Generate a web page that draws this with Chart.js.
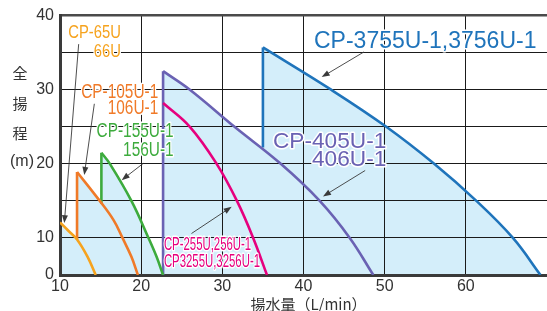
<!DOCTYPE html>
<html>
<head>
<meta charset="utf-8">
<script src="https://cdn.jsdelivr.net/npm/chart.js@4.4.1/dist/chart.umd.min.js"></script>
<style>
  html, body { margin: 0; padding: 0; background: #fff; }
  #wrap { width: 547px; height: 311px; }
</style>
</head>
<body>
<div id="wrap"><canvas id="chart" width="547" height="311"></canvas></div>
<script>
'use strict';

// flow (L/min) along x, total head (m) along y
const flowTicks = [10, 20, 30, 40, 50, 60];
const headTicks = [0, 10, 15, 20, 25, 30, 35, 40];
const headLabels = [0, 10, 20, 30, 40];

const cp65Flow = [10, 11, 12.1, 13.4, 14.4];
const cp65Head = [12.1, 11.0, 9.6, 4.9, 0];

const cp105Flow = [12.1, 14.9, 16.6, 17.7, 18.8, 19.6];
const cp105Head = [18.9, 15, 12.4, 10, 4.9, 0];
const cp105Stem = [9.6, 18.9];

const cp155Flow = [15.1, 16.15, 18.8, 20.9, 21.9, 22.7];
const cp155Head = [21.5, 20, 15, 10, 4.9, 0];
const cp155Stem = [14.6, 21.5];

const cp255Flow = [22.7, 26.0, 29.3, 31.8, 33.8, 35.5];
const cp255Head = [28.2, 25, 20, 15, 10, 0];

const cp405Flow = [22.7, 26.0, 31.5, 37.2, 42.0, 45.7, 48.6];
const cp405Head = [32.5, 30, 25, 20, 15, 10, 0];
const cp405Stem = [0, 32.5];

const cp3755Flow = [35.0, 43.4, 50.2, 56.1, 61.3, 65.8, 69.2];
const cp3755Head = [35.7, 30, 25, 20, 15, 10, 0];
const cp3755Stem = [22.2, 35.7];

const FILL = '#d4eefa';
const INK = '#333333';
const FONT = '"Liberation Sans", Arial, sans-serif';
const CJK = '"Noto Sans CJK JP", sans-serif';

// the sheet squeezes 0..10 m into half the height of the other decades
const BREAK = 10;

class BrokenScale extends Chart.LinearScale {
    _fold(v) { return v <= BREAK ? v / 2 : v - BREAK / 2; }
    _unfold(f) { return f <= BREAK / 2 ? f * 2 : f + BREAK / 2; }
    getPixelForValue(value) {
        const lo = this._fold(this.min);
        const hi = this._fold(this.max);
        return this.getPixelForDecimal((this._fold(value) - lo) / (hi - lo));
    }
    getValueForPixel(pixel) {
        const lo = this._fold(this.min);
        const hi = this._fold(this.max);
        return this._unfold(lo + this.getDecimalForPixel(pixel) * (hi - lo));
    }
}
BrokenScale.id = 'broken';
BrokenScale.defaults = Chart.LinearScale.defaults;
Chart.register(BrokenScale);

const pumps = [
    { color: '#f6a31e', flow: cp65Flow, head: cp65Head, stem: null },
    { color: '#f07a28', flow: cp105Flow, head: cp105Head, stem: cp105Stem },
    { color: '#3dab3d', flow: cp155Flow, head: cp155Head, stem: cp155Stem },
    { color: '#e6007e', flow: cp255Flow, head: cp255Head, stem: null },
    { color: '#6a62b3', flow: cp405Flow, head: cp405Head, stem: cp405Stem },
    { color: '#1f74bb', flow: cp3755Flow, head: cp3755Head, stem: cp3755Stem },
];

const datasets = [];
pumps.forEach((p) => {
    datasets.push({
        data: p.flow.map((x, i) => ({ x, y: p.head[i] })),
        borderColor: p.color,
        borderWidth: 2.6,
        backgroundColor: FILL,
        fill: 'origin',
        tension: 0.4,
        pointRadius: 0,
    });
    if (p.stem) {
        datasets.push({
            data: p.stem.map((y) => ({ x: p.flow[0], y })),
            borderColor: p.color,
            borderWidth: 2.6,
            fill: false,
            tension: 0,
            pointRadius: 0,
        });
    }
});

// model labels: anchor in chart units, first baseline; further lines drop by gap px
const notes = [
    { lines: ['CP-65U', '66U'], x: 17.5, y: 37.0, align: 'right', color: '#f6a31e', size: 18.5, squeeze: 0.8, gap: 19 },
    { lines: ['CP-105U-1', '106U-1'], x: 22.1, y: 28.9, align: 'right', color: '#f07a28', size: 20, squeeze: 0.77, gap: 16.5 },
    { lines: ['CP-155U-1', '156U-1'], x: 24.0, y: 23.6, align: 'right', color: '#3dab3d', size: 20, squeeze: 0.77, gap: 18.5 },
    { lines: ['CP-255U,256U-1', 'CP3255U,3256U-1'], x: 22.8, y: 6.7, align: 'left', color: '#e6007e', size: 17.5, squeeze: 0.65, gap: 17.3 },
    { lines: ['CP-405U-1', '406U-1'], x: 50.2, y: 22.2, align: 'right', color: '#6a62b3', size: 22, squeeze: 1.03, gap: 18.5 },
    { lines: ['CP-3755U-1,3756U-1'], x: 68.7, y: 35.6, align: 'right', color: '#1f74bb', size: 23, squeeze: 1.0, gap: 0 },
];

// leader arrows: [fromFlow, fromHead, toFlow, toHead]
const pointers = [
    [12.3, 36.15, 10.53, 12.0],
    [14.23, 28.1, 12.99, 18.5],
    [20.26, 20.06, 17.6, 17.8],
    [26.2, 10.6, 31.15, 14.2],
    [47.6, 19.1, 42.4, 15.6],
    [47.45, 35.1, 42.24, 31.7],
];

function arrow(ctx, x0, y0, x1, y1) {
    const a = Math.atan2(y1 - y0, x1 - x0);
    const len = 8, half = 3;
    ctx.beginPath();
    ctx.moveTo(x0, y0);
    ctx.lineTo(x1 - Math.cos(a) * len * 0.8, y1 - Math.sin(a) * len * 0.8);
    ctx.stroke();
    ctx.beginPath();
    ctx.moveTo(x1, y1);
    ctx.lineTo(x1 - Math.cos(a) * len - Math.sin(a) * half, y1 - Math.sin(a) * len + Math.cos(a) * half);
    ctx.lineTo(x1 - Math.cos(a) * len + Math.sin(a) * half, y1 - Math.sin(a) * len - Math.cos(a) * half);
    ctx.closePath();
    ctx.fill();
}

const annotate = {
    id: 'annotate',
    afterDraw(chart) {
        const { ctx, chartArea } = chart;
        const sx = chart.scales.x;
        const sy = chart.scales.y;
        ctx.save();

        ctx.strokeStyle = '#3a3a3a';
        ctx.fillStyle = '#3a3a3a';
        ctx.lineWidth = 0.9;
        pointers.forEach(([fx, fy, tx, ty]) => {
            arrow(ctx, sx.getPixelForValue(fx), sy.getPixelForValue(fy), sx.getPixelForValue(tx), sy.getPixelForValue(ty));
        });

        notes.forEach((n) => {
            const px = sx.getPixelForValue(n.x);
            const py = sy.getPixelForValue(n.y);
            n.lines.forEach((line, i) => {
                ctx.save();
                ctx.translate(px, py + i * n.gap);
                ctx.scale(n.squeeze, 1);
                ctx.font = n.size + 'px ' + FONT;
                ctx.textAlign = n.align;
                ctx.textBaseline = 'alphabetic';
                ctx.lineJoin = 'round';
                ctx.strokeStyle = '#ffffff';
                ctx.lineWidth = 3;
                ctx.strokeText(line, 0, 0);
                ctx.fillStyle = n.color;
                ctx.fillText(line, 0, 0);
                ctx.restore();
            });
        });

        // axis titles
        ctx.fillStyle = INK;
        ctx.textAlign = 'center';
        ctx.textBaseline = 'middle';
        ctx.font = '15px ' + CJK;
        ['全', '揚', '程'].forEach((ch, i) => {
            ctx.fillText(ch, chartArea.left - 40, chartArea.top + 58 + i * 30);
        });
        ctx.font = '16px ' + FONT;
        ctx.fillText('(m)', chartArea.left - 38, chartArea.top + 146);
        ctx.font = '15px ' + CJK;
        ctx.fillText('揚水量（L/min）', (chartArea.left + chartArea.right) / 2 + 5, chartArea.bottom + 29);

        ctx.restore();
    },
};

new Chart(document.getElementById('chart'), {
    type: 'line',
    data: { datasets },
    plugins: [annotate],
    options: {
        responsive: false,
        animation: false,
        events: [],
        layout: { padding: { top: 14, right: 0, left: 0, bottom: 0 } },
        plugins: {
            legend: { display: false },
            tooltip: { enabled: false },
            filler: { drawTime: 'beforeDraw' },
        },
        scales: {
            x: {
                type: 'linear',
                min: 10,
                max: 70,
                afterBuildTicks: (axis) => { axis.ticks = flowTicks.map((value) => ({ value })); },
                afterFit: (axis) => { axis.height = 36; },
                grid: { color: '#1a1a1a', lineWidth: 1, drawTicks: false },
                border: { color: '#3a3a3a', width: 3 },
                ticks: { color: INK, font: { family: FONT, size: 16 }, padding: 2, maxRotation: 0 },
            },
            y: {
                type: 'broken',
                min: 0,
                max: 40,
                afterBuildTicks: (axis) => { axis.ticks = headTicks.map((value) => ({ value })); },
                afterFit: (axis) => { axis.width = 60; },
                grid: {
                    color: (c) => (c.tick && c.tick.value === 40 ? '#4a4a4a' : '#1a1a1a'),
                    lineWidth: (c) => (c.tick && c.tick.value === 40 ? 2.6 : 1),
                    drawTicks: false,
                },
                border: { color: '#3a3a3a', width: 3 },
                ticks: {
                    color: INK,
                    font: { family: FONT, size: 16 },
                    padding: 6,
                    callback: (v) => (headLabels.includes(v) ? String(v) : ''),
                },
            },
        },
    },
});
</script>
</body>
</html>
